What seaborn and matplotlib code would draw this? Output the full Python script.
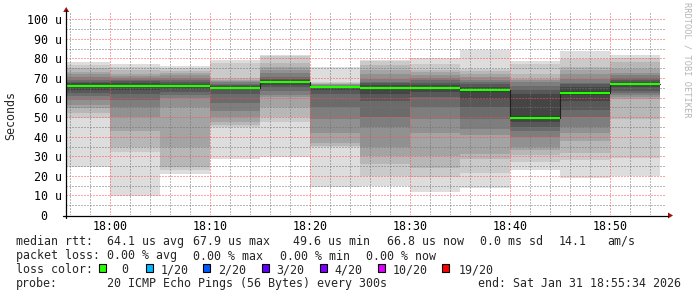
import numpy as np
import pandas as pd
import matplotlib
matplotlib.use("Agg")
import matplotlib.pyplot as plt
import matplotlib.dates as mdates
import matplotlib.transforms as mtransforms
from matplotlib.lines import Line2D
from matplotlib.patches import Rectangle, Polygon
import seaborn as sns

# ---------------- data ----------------
day = "2026-01-31"
slot_starts = ["17:55", "18:00", "18:05", "18:10", "18:15", "18:20",
               "18:25", "18:30", "18:35", "18:40", "18:45", "18:50"]
slot_minutes = 5

# 20 sorted ping RTTs per 5-minute step
pings_1755 = [24.5, 49.5, 52, 54.5, 56, 59, 61, 62.5, 64, 65.5, 66.5, 67.5, 68, 69, 70.5, 72, 73, 75, 76.5, 78]
pings_1800 = [9.5, 32, 35, 43, 50, 55, 59, 62, 64, 65.5, 66.5, 67.5, 68.5, 69.2, 70, 71, 72.3, 74, 75.5, 77]
pings_1805 = [21, 23, 24.5, 35, 55, 60, 61.5, 63, 64.5, 65.5, 66.2, 67, 68, 69, 70, 71.5, 72.5, 73.5, 75, 76]
pings_1810 = [28.8, 45, 46, 47.5, 50, 53, 57, 62, 64.3, 64.8, 65.2, 65.8, 66.5, 67, 68, 68.5, 69, 70, 77.5, 79]
pings_1815 = [29.7, 47.5, 50, 55, 60.5, 61.5, 63.5, 65.5, 66.5, 67.5, 68.2, 68.8, 69.5, 70.5, 72.5, 74, 75.5, 77.5, 81, 82]
pings_1820 = [14.5, 34.8, 35.5, 36.6, 42, 49.3, 55, 62, 64, 64.8, 65.2, 65.5, 65.8, 66.1, 66.4, 66.7, 67, 67.5, 68, 75.7]
pings_1825 = [15, 20, 26, 30, 35, 45, 50, 58, 62, 64.5, 65.5, 66.5, 67.2, 68, 69.7, 72, 74, 76.5, 78.6, 79.4]
pings_1830 = [12, 19.5, 23.8, 30, 41.7, 49.3, 55.3, 60.4, 63, 64.5, 65.5, 66.5, 67.5, 68.9, 70, 71.4, 73, 74, 77, 80.4]
pings_1835 = [13.9, 21.5, 28.4, 31, 41, 44.2, 49.3, 55, 59.5, 63, 64.5, 65.5, 67, 68, 69, 70.6, 72, 73.5, 74.8, 84.5]
pings_1840 = [22.8, 27.2, 30.6, 33, 35, 40, 43, 45, 47.5, 49.3, 50.5, 62, 64, 66, 68, 69, 69.7, 72, 77.4, 78.6]
pings_1845 = [19, 28, 31.5, 38, 41.7, 45, 50, 53.6, 58, 61.5, 63.3, 65.5, 67, 67.7, 69.7, 72, 74, 75.7, 79.9, 83.7]
pings_1850 = [19.8, 28.9, 49.3, 59.5, 60.4, 61.5, 62.5, 63.5, 65.5, 66.2, 67.2, 67.8, 68.9, 70, 71.4, 72.5, 74.8, 78, 80.4, 82]

medians = [66.0, 66.0, 65.8, 65.0, 67.9, 65.2, 65.0, 65.0, 63.9, 49.6, 62.4, 66.8]

end_time = "2026-01-31 18:55:34"
span_minutes = 60

y_ticks = [0, 10, 20, 30, 40, 50, 60, 70, 80, 90, 100]
y_tick_labels = ["0", "10 u", "20 u", "30 u", "40 u", "50 u", "60 u", "70 u", "80 u", "90 u", "100 u"]
x_tick_times = ["18:00", "18:10", "18:20", "18:30", "18:40", "18:50"]

loss_labels = ["0", "1/20", "2/20", "3/20", "4/20", "10/20", "19/20"]
loss_colors = ["#26ff00", "#00b8ff", "#0059ff", "#5e00ff", "#7e00ff", "#dd00ff", "#ff0000"]

rtt_items = ["median rtt:", "64.1 us avg", "67.9 us max", "49.6 us min",
             "66.8 us now", "0.0 ms sd", "14.1", "am/s"]
loss_items = ["packet loss:", "0.00 % avg", "0.00 % max", "0.00 % min", "0.00 % now"]
color_title = "loss color:"
probe_items = ["probe:", "20 ICMP Echo Pings (56 Bytes) every 300s"]
end_label = "end: Sat Jan 31 18:55:34 2026"
y_title = "Seconds"
credit = "RRDTOOL / TOBI OETIKER"

# ---------------- style / layout ----------------
sns.set_style("white")
plt.rcParams["font.family"] = ["DejaVu Sans Mono", "DejaVu Sans"]
FS = 8.4
W, H = 697, 297
fig = plt.figure(figsize=(W / 100, H / 100), dpi=100)
fig.patch.set_facecolor("white")

L_PX, R_PX, T_PX, B_PX = 65.7, 665.7, 13, 215
ax = fig.add_axes([L_PX / W, 1 - B_PX / H, (R_PX - L_PX) / W, (B_PX - T_PX) / H])
ax.set_facecolor("white")


def px(x, y):
    return (x / W, 1 - y / H)


# ---------------- smoke ----------------
all_pings = np.array([pings_1755, pings_1800, pings_1805, pings_1810, pings_1815, pings_1820,
                      pings_1825, pings_1830, pings_1835, pings_1840, pings_1845, pings_1850])
starts = mdates.date2num(pd.to_datetime([f"{day} {s}" for s in slot_starts]))
width = slot_minutes / 1440.0
n = all_pings.shape[1]
half = n // 2
for ibot in range(1, half + 1):
    itop = n + 1 - ibot
    g = int(190 / half * (half - ibot)) + 50
    lo = all_pings[:, ibot - 1]
    hi = all_pings[:, itop - 1]
    ax.bar(starts, hi - lo, bottom=lo, width=width, align="edge",
           color=f"#{g:02x}{g:02x}{g:02x}", linewidth=0, zorder=1)

# ---------------- median ----------------
t_edges = np.append(starts, starts[-1] + width)
m_edges = medians + [medians[-1]]
sns.lineplot(x=t_edges, y=m_edges, drawstyle="steps-post", color="#202020",
             linewidth=0.8, estimator=None, sort=False, ax=ax, zorder=3)
ax.hlines(medians, starts, starts + width, colors=loss_colors[0], linewidth=1.6, zorder=4)

# ---------------- axes ----------------
end_num = mdates.date2num(pd.Timestamp(end_time))
ax.set_xlim(end_num - span_minutes / 1440.0, end_num)
ax.set_ylim(0, (B_PX - T_PX) / ((B_PX - 19.3) / 100.0))

xt = mdates.date2num(pd.to_datetime([f"{day} {s}" for s in x_tick_times]))
ax.set_xticks(xt, x_tick_times)
ax.xaxis.set_minor_locator(mdates.MinuteLocator(byminute=range(0, 60, 2)))
ax.set_yticks(y_ticks, y_tick_labels)
ax.yaxis.set_minor_locator(matplotlib.ticker.MultipleLocator(5))

ax.set_xlabel("")
ax.set_ylabel("")
for s in ax.spines.values():
    s.set_visible(False)

ax.set_axisbelow(False)
dots = (0, (1, 2))
ax.grid(which="major", color=(1.0, 0.3, 0.3, 0.42), linestyle=dots, linewidth=0.72)
ax.grid(which="minor", color=(0.45, 0.45, 0.45, 0.36), linestyle=dots, linewidth=0.72)

ax.tick_params(axis="both", which="both", direction="out", length=2.2, width=0.7,
               color="#404040", labelsize=FS, labelcolor="black")
ax.tick_params(axis="y", which="major", pad=0.8)
ax.tick_params(axis="x", which="major", pad=1.2)

for lab in ax.get_yticklabels():
    if lab.get_text() == "0":
        lab.set_transform(lab.get_transform() +
                          mtransforms.ScaledTranslation(-14 / 100, 0, fig.dpi_scale_trans))

# axis lines with arrows (rrdtool style)
fig.add_artist(Line2D([px(63, 0)[0], px(668, 0)[0]], [px(0, 215.5)[1]] * 2,
                      transform=fig.transFigure, color="black", linewidth=0.9))
fig.add_artist(Line2D([px(66.2, 0)[0]] * 2, [px(0, 218)[1], px(0, 10)[1]],
                      transform=fig.transFigure, color="black", linewidth=0.9))
fig.add_artist(Polygon([px(668, 212.5), px(673, 215.5), px(668, 218.5)], closed=True,
                       transform=fig.transFigure, color="#a01010", linewidth=0))
fig.add_artist(Polygon([px(63.2, 12), px(66.2, 7), px(69.2, 12)], closed=True,
                       transform=fig.transFigure, color="#a01010", linewidth=0))

# ---------------- texts ----------------
fig.text(*px(11, 115), y_title, rotation=90, ha="center", va="center", fontsize=FS)
fig.text(*px(687, 60), credit, rotation=270, ha="center", va="center",
         fontsize=6.2, color="#b4b4b4")

rtt_x = [16, 107.3, 193.3, 293.4, 386.5, 479.5, 559, 607.5]
for x, t in zip(rtt_x, rtt_items):
    fig.text(*px(x, 245), t, ha="left", va="baseline", fontsize=FS)

loss_x = [16, 107.3, 193.5, 279.5, 365.5]
for x, t in zip(loss_x, loss_items):
    fig.text(*px(x, 259.5), t, ha="left", va="baseline", fontsize=FS)

fig.text(*px(16, 273.3), color_title, ha="left", va="baseline", fontsize=FS)
box_x = [99.3, 145.8, 203.3, 261.8, 320.0, 377.8, 442.4]
text_x = [121.5, 160.2, 218.3, 276.2, 334.2, 392.3, 458.3]
for bx, tx, lab, col in zip(box_x, text_x, loss_labels, loss_colors):
    fig.add_artist(Rectangle(px(bx, 272.3), 7.0 / W, 8.2 / H, transform=fig.transFigure,
                             facecolor=col, edgecolor="black", linewidth=0.8))
    fig.text(*px(tx, 273.3), lab, ha="left", va="baseline", fontsize=FS)

probe_x = [16, 107.3]
for x, t in zip(probe_x, probe_items):
    fig.text(*px(x, 287.3), t, ha="left", va="baseline", fontsize=FS)
fig.text(*px(681, 287.3), end_label, ha="right", va="baseline", fontsize=FS)

fig.savefig("out.png", dpi=100, facecolor="white")
